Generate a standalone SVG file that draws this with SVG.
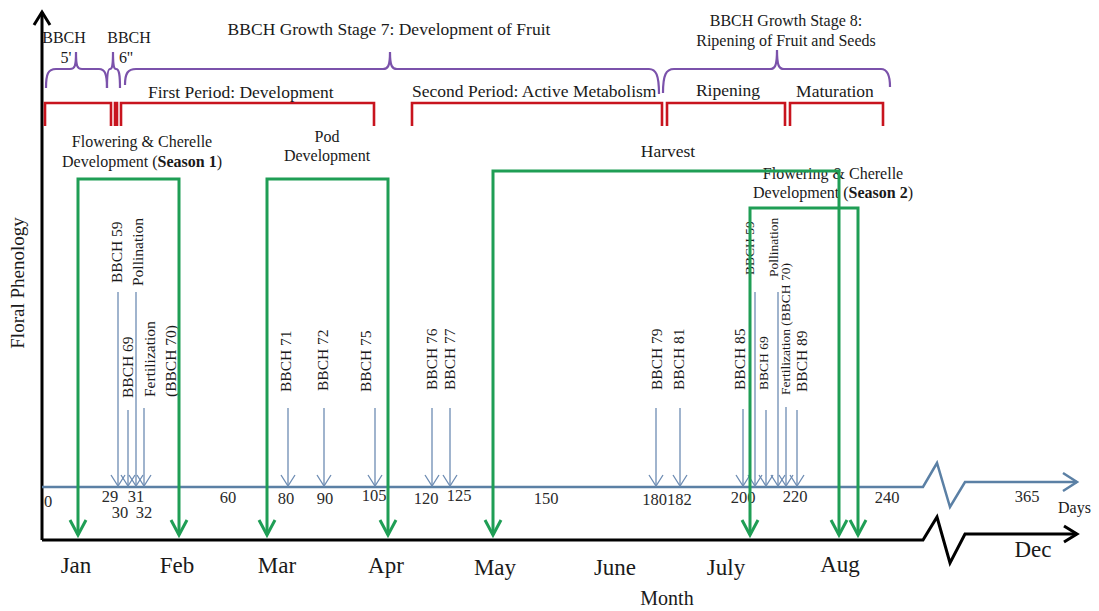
<svg xmlns="http://www.w3.org/2000/svg" width="1099" height="611" viewBox="0 0 1099 611">
<style>
text{font-family:"Liberation Serif","Times New Roman",serif;fill:#1a1a1a}
.t17{font-size:17.5px}
.t16{font-size:16px}
.mon{font-size:23px;text-anchor:middle}
.day{font-size:16.5px;text-anchor:middle;fill:#2a2a2a}
.rot{font-size:15.5px}
.rs{font-size:13.5px}
.mid{text-anchor:middle}
.brace{fill:none;stroke:#7b52ab;stroke-width:2.2}
.bracket{fill:none;stroke:#c8141e;stroke-width:2.6}
.green{fill:none;stroke:#1f9e55;stroke-width:3;marker-start:url(#gA);marker-end:url(#gA)}
.tick{stroke:#6d8cb3;stroke-width:1.3;marker-end:url(#tA)}
</style>
<defs>
<marker id="gA" markerUnits="userSpaceOnUse" markerWidth="40" markerHeight="40" viewBox="-20 -20 40 40" refX="0" refY="0" orient="auto-start-reverse" overflow="visible"><path d="M-15,-8 L0,0 L-15,8" fill="none" stroke="#1f9e55" stroke-width="3"/></marker>
<marker id="tA" markerUnits="userSpaceOnUse" markerWidth="30" markerHeight="30" viewBox="-15 -15 30 30" refX="0" refY="0" orient="auto" overflow="visible"><path d="M-11,-7 L0,0 L-11,7" fill="none" stroke="#6d8cb3" stroke-width="1.3"/></marker>
<marker id="bA" markerUnits="userSpaceOnUse" markerWidth="30" markerHeight="30" viewBox="-15 -15 30 30" refX="0" refY="0" orient="auto" overflow="visible"><path d="M-14,-9 L0,0 L-14,9" fill="none" stroke="#5b80a5" stroke-width="2.5"/></marker>
<marker id="kA" markerUnits="userSpaceOnUse" markerWidth="30" markerHeight="30" viewBox="-15 -15 30 30" refX="0" refY="0" orient="auto" overflow="visible"><path d="M-13,-8 L0,0 L-13,8" fill="none" stroke="#000" stroke-width="3"/></marker>
</defs>
<rect width="1099" height="611" fill="#fff"/>

<g id="axes">
<path d="M42,540 V12" fill="none" stroke="#000" stroke-width="3" marker-end="url(#kA)"/>
<path d="M42,540 H923 L937,517 L950,563 L965,534 H1077" fill="none" stroke="#000" stroke-width="3" marker-end="url(#kA)"/>
<path d="M42,487 H923 L937,463 L950,507 L965,482 H1077" fill="none" stroke="#5b80a5" stroke-width="2.5" marker-end="url(#bA)"/>
<text x="24" y="283" transform="rotate(-90 24 283)" class="mid" style="font-size:19px">Floral Phenology</text>
<text x="667" y="605" class="mid" style="font-size:20px">Month</text>
<text x="1058" y="513" style="font-size:16px">Days</text>
</g>

<g id="day-labels">
<text class="day" x="48" y="507">0</text>
<text class="day" x="110" y="502">29</text>
<text class="day" x="136" y="502">31</text>
<text class="day" x="120" y="518">30</text>
<text class="day" x="144" y="518">32</text>
<text class="day" x="228" y="503">60</text>
<text class="day" x="286" y="504">80</text>
<text class="day" x="325" y="504">90</text>
<text class="day" x="374" y="501">105</text>
<text class="day" x="426" y="504">120</text>
<text class="day" x="459" y="501">125</text>
<text class="day" x="546" y="504">150</text>
<text class="day" x="667" y="505">180182</text>
<text class="day" x="743" y="503">200</text>
<text class="day" x="795" y="502">220</text>
<text class="day" x="887" y="503">240</text>
<text class="day" x="1027" y="502">365</text>
</g>

<g id="month-labels">
<text class="mon" x="76" y="573">Jan</text>
<text class="mon" x="177" y="573">Feb</text>
<text class="mon" x="277" y="573">Mar</text>
<text class="mon" x="386" y="573">Apr</text>
<text class="mon" x="495" y="575">May</text>
<text class="mon" x="615" y="575">June</text>
<text class="mon" x="726" y="575">July</text>
<text class="mon" x="840" y="572">Aug</text>
<text class="mon" x="1033" y="557">Dec</text>
</g>

<g id="stage-braces">
<path class="brace" d="M46,88 C46,74 48,69 56,69 L70,69 C75,69 76,66 76,52 C76,66 77,69 82,69 L99,69 C105,69 107,74 107,88"/>
<path class="brace" d="M107,88 C107,74 108,69 110,69 C112,69 113,66 113,52 C113,66 114,69 116,69 C119,69 120,74 120,88"/>
<path class="brace" d="M125,85 C125,73 128,69 136,69 L383,69 C388,69 390,66 390,52 C390,66 392,69 397,69 L649,69 C656,69 659,75 659,94"/>
<path class="brace" d="M663,93 C663,75 666,69 674,69 L770,69 C775,69 777,66 777,50 C777,66 779,69 784,69 L881,69 C887,69 890,74 890,87"/>
<text class="t16 mid" x="64" y="43">BBCH</text>
<text class="t16 mid" x="66" y="63">5'</text>
<text class="t16 mid" x="129" y="43">BBCH</text>
<text class="t16 mid" x="126" y="63">6''</text>
<text class="t17 mid" x="389" y="35">BBCH Growth Stage 7: Development of Fruit</text>
<text class="t16 mid" x="786" y="26">BBCH Growth Stage 8:</text>
<text class="t16 mid" x="786" y="46">Ripening of Fruit and Seeds</text>
</g>

<g id="periods">
<path class="bracket" d="M45,126 V103 H111 V126"/>
<path class="bracket" d="M115,126 V103 H117 V126"/>
<path class="bracket" d="M121,126 V103 H374 V126"/>
<path class="bracket" d="M412,126 V103 H662 V126"/>
<path class="bracket" d="M667,126 V103 H785 V126"/>
<path class="bracket" d="M790,126 V103 H883 V126"/>
<text class="t17" x="148" y="98">First Period:  Development</text>
<text class="t17" x="412" y="97">Second Period: Active Metabolism</text>
<text class="t17 mid" x="728" y="96">Ripening</text>
<text class="t17 mid" x="835" y="97">Maturation</text>
</g>

<g id="phase-labels">
<text class="t16 mid" x="142" y="147">Flowering &amp; Cherelle</text>
<text class="t16 mid" x="142" y="167">Development (<tspan font-weight="bold">Season 1</tspan>)</text>
<text class="t16 mid" x="327" y="142">Pod</text>
<text class="t16 mid" x="327" y="161">Development</text>
<text class="t17 mid" x="668" y="157">Harvest</text>
<text class="t16 mid" x="833" y="179">Flowering &amp; Cherelle</text>
<text class="t16 mid" x="833" y="198">Development (<tspan font-weight="bold">Season 2</tspan>)</text>
</g>

<g id="bbch-labels">
<text class="rot" transform="translate(122,283) rotate(-90)">BBCH 59</text>
<text class="rot" transform="translate(143,286) rotate(-90)">Pollination</text>
<text class="rot" transform="translate(133,398) rotate(-90)">BBCH 69</text>
<text class="rot" transform="translate(155,397) rotate(-90)">Fertilization</text>
<text class="rot" transform="translate(176,397) rotate(-90)">(BBCH 70)</text>
<text class="rot" transform="translate(291,392) rotate(-90)">BBCH 71</text>
<text class="rot" transform="translate(328,391) rotate(-90)">BBCH 72</text>
<text class="rot" transform="translate(371,392) rotate(-90)">BBCH 75</text>
<text class="rot" transform="translate(437,390) rotate(-90)">BBCH 76</text>
<text class="rot" transform="translate(455,390) rotate(-90)">BBCH 77</text>
<text class="rot" transform="translate(662,390) rotate(-90)">BBCH 79</text>
<text class="rot" transform="translate(684,390) rotate(-90)">BBCH 81</text>
<text class="rot" transform="translate(745,390) rotate(-90)">BBCH 85</text>
<text class="rs" transform="translate(754,275) rotate(-90)">BBCH 59</text>
<text class="rs" transform="translate(768,390) rotate(-90)">BBCH 69</text>
<text class="rs" transform="translate(778,277) rotate(-90)">Pollination</text>
<text class="rs" transform="translate(790,395) rotate(-90)">Fertilization (BBCH 70)</text>
<text class="rot" transform="translate(807,392) rotate(-90)">BBCH 89</text>
</g>

<g id="connectors">
<line class="tick" x1="118" y1="292" x2="118" y2="486"/>
<line class="tick" x1="128" y1="410" x2="128" y2="486"/>
<line class="tick" x1="136" y1="292" x2="136" y2="486"/>
<line class="tick" x1="144" y1="408" x2="144" y2="486"/>
<line class="tick" x1="288" y1="408" x2="288" y2="486"/>
<line class="tick" x1="324" y1="408" x2="324" y2="486"/>
<line class="tick" x1="375" y1="408" x2="375" y2="486"/>
<line class="tick" x1="432" y1="408" x2="432" y2="486"/>
<line class="tick" x1="450" y1="408" x2="450" y2="486"/>
<line class="tick" x1="656" y1="408" x2="656" y2="486"/>
<line class="tick" x1="680" y1="408" x2="680" y2="486"/>
<line class="tick" x1="743" y1="409" x2="743" y2="486"/>
<line class="tick" x1="755" y1="292" x2="755" y2="486"/>
<line class="tick" x1="766" y1="410" x2="766" y2="486"/>
<line class="tick" x1="778" y1="292" x2="778" y2="486"/>
<line class="tick" x1="786" y1="407" x2="786" y2="486"/>
<line class="tick" x1="797" y1="410" x2="797" y2="486"/>
<path class="green" d="M78,535 V179 H179 V535"/>
<path class="green" d="M267,535 V179 H388 V535"/>
<path class="green" d="M493,535 V171 H839 V535"/>
<path class="green" d="M750,535 V208 H858 V535"/>
</g>
</svg>
